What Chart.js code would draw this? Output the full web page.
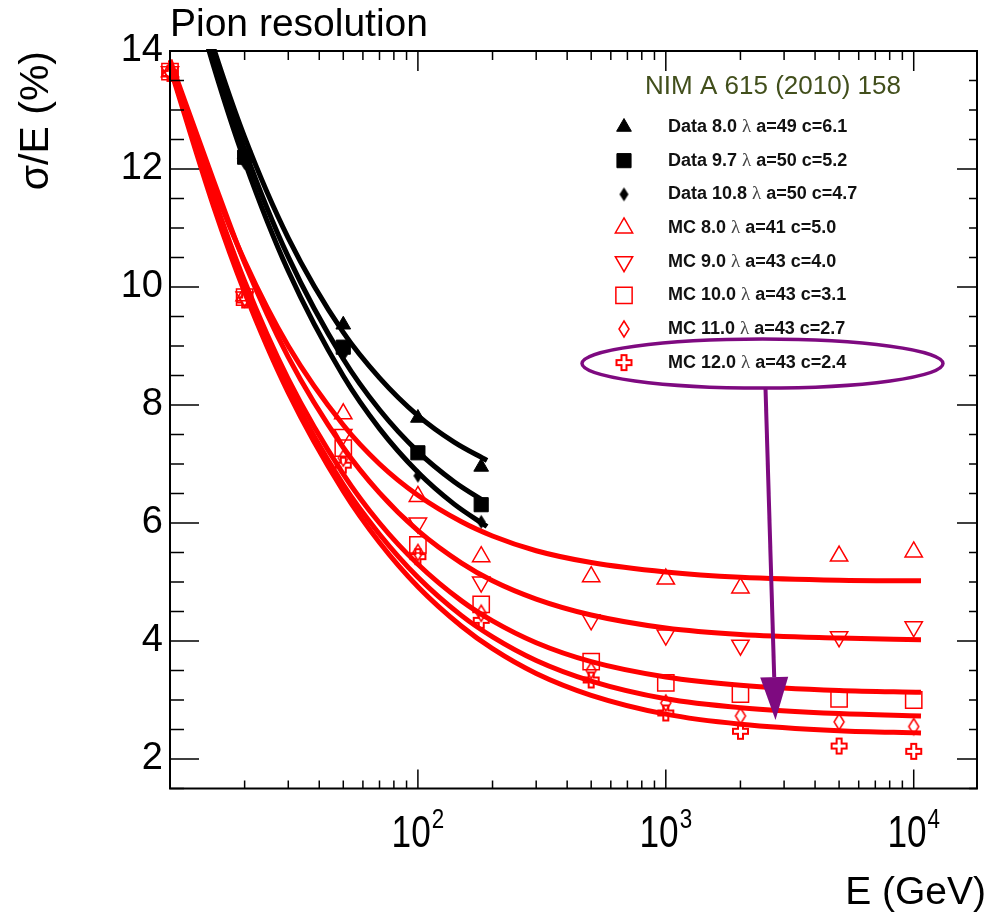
<!DOCTYPE html>
<html>
<head>
<meta charset="utf-8">
<title>Pion resolution</title>
<script src="https://cdn.jsdelivr.net/npm/chart.js@4.4.1/dist/chart.umd.min.js"></script>
<style>
  html, body { margin: 0; padding: 0; background: #fff; }
  #wrap { width: 990px; height: 914px; }
</style>
</head>
<body>
<div id="wrap"><canvas id="chartPion"></canvas></div>
<script>
// beam energies (GeV)
const dataEnergies = [20, 50, 100, 180];
const mcEnergies = [10, 20, 50, 100, 180, 500, 1000, 2000, 5000, 10000];

// sigma/E (%)
const data80 = [12.25, 9.36, 7.78, 6.95];
const data97 = [12.2, 8.98, 7.19, 6.31];
const data108 = [12.1, 8.85, 6.8, 6.02];

const mc80 = [13.65, 9.85, 7.85, 6.45, 5.43, 5.09, 5.05, 4.9, 5.44, 5.51];
const mc90 = [13.65, 9.83, 7.5, 6.0, 5.0, 4.36, 4.1, 3.93, 4.07, 4.24];
const mc100 = [13.65, 9.83, 7.27, 5.63, 4.62, 3.65, 3.29, 3.1, 3.02, 3.0];
const mc110 = [13.63, 9.8, 7.1, 5.5, 4.47, 3.5, 2.95, 2.73, 2.63, 2.55];
const mc120 = [13.62, 9.78, 6.98, 5.43, 4.35, 3.34, 2.78, 2.47, 2.22, 2.13];

// fit curves, read at a few energies
const fitDataE = [12, 15, 20, 30, 50, 70, 100, 140, 190];
const fit80 = [15.4, 14.05, 12.54, 10.83, 9.23, 8.46, 7.82, 7.37, 7.06];
const fit97 = [15.34, 13.92, 12.33, 10.51, 8.78, 7.92, 7.21, 6.7, 6.34];
const fit108 = [15.18, 13.74, 12.13, 10.27, 8.49, 7.6, 6.86, 6.32, 5.94];

const fitMcE = [10, 15, 20, 30, 50, 70, 100, 150, 200, 300, 500, 1000, 2000, 5000, 10700];
const fitMc80 = [13.8, 11.71, 10.44, 9.0, 7.66, 7.0, 6.47, 6.02, 5.78, 5.53, 5.33, 5.17, 5.08, 5.03, 5.02];
const fitMc90 = [13.85, 11.8, 10.41, 8.81, 7.28, 6.51, 5.87, 5.32, 5.02, 4.71, 4.44, 4.22, 4.11, 4.05, 4.02];
const fitMc100 = [13.8, 11.53, 10.1, 8.44, 6.83, 6.0, 5.3, 4.68, 4.34, 3.97, 3.65, 3.39, 3.25, 3.16, 3.13];
const fitMc110 = [13.75, 11.43, 9.99, 8.3, 6.65, 5.81, 5.08, 4.43, 4.07, 3.67, 3.32, 3.02, 2.87, 2.77, 2.73];
const fitMc120 = [13.72, 11.36, 9.91, 8.21, 6.54, 5.67, 4.92, 4.25, 3.87, 3.45, 3.08, 2.76, 2.59, 2.48, 2.44];

const seriesLabels = [
    "Data 8.0 λ a=49 c=6.1",
    "Data 9.7 λ a=50 c=5.2",
    "Data 10.8 λ a=50 c=4.7",
    "MC 8.0 λ a=41 c=5.0",
    "MC 9.0 λ a=43 c=4.0",
    "MC 10.0 λ a=43 c=3.1",
    "MC 11.0 λ a=43 c=2.7",
    "MC 12.0 λ a=43 c=2.4",
];
const legendTitle = "NIM A 615 (2010) 158";
const xAxisTitle = "E (GeV)";

// axis ticks
const xTickValues = [20, 30, 40, 50, 60, 70, 80, 90, 100, 200, 300, 400, 500, 600, 700, 800, 900,
    1000, 2000, 3000, 4000, 5000, 6000, 7000, 8000, 9000, 10000];
const xLabelValues = [100, 1000, 10000];
const xLabelBase = "10";
const xLabelExponents = ["2", "3", "4"];
const yTickValues = [1.5, 2, 2.5, 3, 3.5, 4, 4.5, 5, 5.5, 6, 6.5, 7, 7.5, 8, 8.5, 9, 9.5,
    10, 10.5, 11, 11.5, 12, 12.5, 13, 13.5, 14];
const yLabelValues = [2, 4, 6, 8, 10, 12, 14];

// where the purple arrow points (E, sigma/E)
const arrowTarget = { e: 2770, v: 2.66 };

const FONT = '"Liberation Sans", Arial, sans-serif';
const RED = "#ff0000";
const PURPLE = "#7e0a80";

function pts(xs, ys) {
    return xs.map((x, i) => ({ x: x, y: ys[i] }));
}

// tall narrow diamond marker
function diamondMarker(w, h, fill, stroke, lw) {
    const c = document.createElement("canvas");
    c.width = w + 4;
    c.height = h + 4;
    const g = c.getContext("2d");
    const cx = c.width / 2, cy = c.height / 2;
    g.beginPath();
    g.moveTo(cx, cy - h / 2);
    g.lineTo(cx + w / 2, cy);
    g.lineTo(cx, cy + h / 2);
    g.lineTo(cx - w / 2, cy);
    g.closePath();
    if (fill) { g.fillStyle = fill; g.fill(); }
    if (stroke) { g.strokeStyle = stroke; g.lineWidth = lw; g.stroke(); }
    return c;
}

// open plus marker
function crossMarker(size, arm, color, lw) {
    const c = document.createElement("canvas");
    c.width = size + 4;
    c.height = size + 4;
    const g = c.getContext("2d");
    const cx = c.width / 2, cy = c.height / 2;
    const s = size / 2, t = arm / 2;
    g.beginPath();
    g.moveTo(cx - t, cy - s);
    g.lineTo(cx + t, cy - s);
    g.lineTo(cx + t, cy - t);
    g.lineTo(cx + s, cy - t);
    g.lineTo(cx + s, cy + t);
    g.lineTo(cx + t, cy + t);
    g.lineTo(cx + t, cy + s);
    g.lineTo(cx - t, cy + s);
    g.lineTo(cx - t, cy + t);
    g.lineTo(cx - s, cy + t);
    g.lineTo(cx - s, cy - t);
    g.lineTo(cx - t, cy - t);
    g.closePath();
    g.strokeStyle = color;
    g.lineWidth = lw;
    g.stroke();
    return c;
}

function markerSet(label, data, style, radius, filled, color, rotation) {
    return {
        label: label,
        data: data,
        pointStyle: style,
        pointRadius: radius,
        pointRotation: rotation || 0,
        pointBackgroundColor: filled ? color : "rgba(0,0,0,0)",
        pointBorderColor: color,
        pointBorderWidth: filled ? 1 : 1.5,
        clip: false,
        isMarker: true,
    };
}

function fitLine(data, color) {
    return {
        type: "line",
        data: data,
        borderColor: color,
        borderWidth: 5,
        pointRadius: 0,
        cubicInterpolationMode: "monotone",
        fill: false,
        clip: 2,
    };
}

// legend drawn inside the plot, top right
const nimLegend = {
    id: "nimLegend",
    afterDatasetsDraw(chart) {
        const { ctx, chartArea } = chart;
        const markerX = chartArea.right - 353;
        const textX = markerX + 44;
        const top = chartArea.top;
        const step = 33.66;
        ctx.save();
        ctx.fillStyle = "#424f1c";
        ctx.font = "26px " + FONT;
        ctx.textAlign = "center";
        ctx.textBaseline = "alphabetic";
        ctx.fillText(legendTitle, markerX + 149, top + 43);

        const sets = chart.data.datasets.filter((d) => d.isMarker);
        sets.forEach((ds, i) => {
            const y = top + 76 + i * step;
            ctx.fillStyle = ds.pointBackgroundColor;
            ctx.strokeStyle = ds.pointBorderColor;
            ctx.lineWidth = ds.pointBorderWidth;
            Chart.helpers.drawPoint(ctx, {
                pointStyle: ds.pointStyle,
                rotation: ds.pointRotation,
                radius: ds.pointRadius,
                borderWidth: ds.pointBorderWidth,
            }, markerX, y);

            const parts = ds.label.split("λ");
            ctx.textAlign = "left";
            ctx.textBaseline = "middle";
            ctx.fillStyle = "#111";
            ctx.font = "bold 18px " + FONT;
            ctx.fillText(parts[0], textX, y);
            let w = ctx.measureText(parts[0]).width;
            ctx.font = '19px "Liberation Serif", serif';
            ctx.fillStyle = "#444";
            ctx.fillText("λ", textX + w, y);
            w += ctx.measureText("λ").width;
            ctx.font = "bold 18px " + FONT;
            ctx.fillStyle = "#111";
            ctx.fillText(parts[1], textX + w, y);
        });

        // purple ellipse round the last entry, arrow down to the curve
        const lastY = top + 76 + (sets.length - 1) * step;
        const cx = markerX + 138.5, cy = lastY + 1, rx = 180.5, ry = 24.5;
        ctx.strokeStyle = PURPLE;
        ctx.fillStyle = PURPLE;
        ctx.lineWidth = 3.5;
        ctx.beginPath();
        ctx.ellipse(cx, cy, rx, ry, 0, 0, Math.PI * 2);
        ctx.stroke();

        const tipX = chart.scales.x.getPixelForValue(arrowTarget.e);
        const tipY = chart.scales.y.getPixelForValue(arrowTarget.v);
        const startX = cx + 3, startY = cy + ry;
        const ang = Math.atan2(tipY - startY, tipX - startX);
        const headLen = 43, headHalf = 14;
        const baseX = tipX - Math.cos(ang) * headLen;
        const baseY = tipY - Math.sin(ang) * headLen;
        ctx.lineWidth = 4;
        ctx.beginPath();
        ctx.moveTo(startX, startY);
        ctx.lineTo(baseX, baseY);
        ctx.stroke();
        ctx.beginPath();
        ctx.moveTo(tipX, tipY);
        ctx.lineTo(baseX + Math.sin(ang) * headHalf, baseY - Math.cos(ang) * headHalf);
        ctx.lineTo(baseX - Math.sin(ang) * headHalf, baseY + Math.cos(ang) * headHalf);
        ctx.closePath();
        ctx.fill();
        ctx.restore();
    },
};

// frame with inward ticks on all four sides, plus the 10^n labels
const frameTicks = {
    id: "frameTicks",
    afterDraw(chart) {
        const { ctx, chartArea: a, scales } = chart;
        ctx.save();
        ctx.strokeStyle = "#000";
        ctx.lineWidth = 1.5;
        ctx.beginPath();
        scales.x.ticks.forEach((t) => {
            const px = scales.x.getPixelForValue(t.value);
            const major = xLabelValues.includes(t.value);
            ctx.moveTo(px, a.bottom);
            ctx.lineTo(px, a.bottom - (major ? 19 : 8));
            ctx.moveTo(px, a.top);
            ctx.lineTo(px, a.top + (major ? 20 : 9));
        });
        scales.y.ticks.forEach((t) => {
            const py = scales.y.getPixelForValue(t.value);
            const major = yLabelValues.includes(t.value);
            ctx.moveTo(a.left, py);
            ctx.lineTo(a.left + (major ? 29 : 14), py);
            ctx.moveTo(a.right, py);
            ctx.lineTo(a.right - (major ? 20 : 8), py);
        });
        ctx.stroke();
        ctx.lineWidth = 2;
        ctx.strokeRect(a.left, a.top, a.right - a.left, a.bottom - a.top);

        // condensed "10" with a raised exponent
        const squeeze = 0.8;
        ctx.fillStyle = "#000";
        ctx.textAlign = "left";
        ctx.textBaseline = "alphabetic";
        xLabelValues.forEach((v, i) => {
            const px = scales.x.getPixelForValue(v);
            ctx.font = "44px " + FONT;
            const w1 = ctx.measureText(xLabelBase).width * squeeze;
            ctx.font = "28px " + FONT;
            const w2 = ctx.measureText(xLabelExponents[i]).width * squeeze;
            const x0 = px - (w1 + w2 + 1) / 2;
            const base = a.bottom + 58.5;
            ctx.save();
            ctx.translate(x0, base);
            ctx.scale(squeeze, 1);
            ctx.font = "44px " + FONT;
            ctx.fillText(xLabelBase, 0, 0);
            ctx.restore();
            ctx.save();
            ctx.translate(x0 + w1 + 1, base - 19);
            ctx.scale(squeeze, 1);
            ctx.font = "28px " + FONT;
            ctx.fillText(xLabelExponents[i], 0, 0);
            ctx.restore();
        });

        // axis title, right edge just past the frame
        ctx.font = "39px " + FONT;
        ctx.textAlign = "right";
        ctx.fillText(xAxisTitle, a.right + 9, a.bottom + 115);
        ctx.restore();
    },
};

const ctx = document.getElementById("chartPion");

new Chart(ctx, {
    type: "scatter",
    data: {
        datasets: [
            markerSet(seriesLabels[0], pts(dataEnergies, data80), "triangle", 8.5, true, "#000"),
            markerSet(seriesLabels[1], pts(dataEnergies, data97), "rect", 10, true, "#000"),
            markerSet(seriesLabels[2], pts(dataEnergies, data108), diamondMarker(9, 14, "#000", null, 0), 7, true, "#000"),
            markerSet(seriesLabels[3], pts(mcEnergies, mc80), "triangle", 10, false, RED),
            markerSet(seriesLabels[4], pts(mcEnergies, mc90), "triangle", 10, false, RED, 180),
            markerSet(seriesLabels[5], pts(mcEnergies, mc100), "rect", 11.5, false, RED),
            markerSet(seriesLabels[6], pts(mcEnergies, mc110), diamondMarker(10, 16, null, RED, 1.5), 8, false, RED),
            markerSet(seriesLabels[7], pts(mcEnergies, mc120), crossMarker(15, 5, RED, 2), 8, false, RED),
            fitLine(pts(fitDataE, fit80), "#000"),
            fitLine(pts(fitDataE, fit97), "#000"),
            fitLine(pts(fitDataE, fit108), "#000"),
            fitLine(pts(fitMcE, fitMc80), RED),
            fitLine(pts(fitMcE, fitMc90), RED),
            fitLine(pts(fitMcE, fitMc100), RED),
            fitLine(pts(fitMcE, fitMc110), RED),
            fitLine(pts(fitMcE, fitMc120), RED),
        ],
    },
    options: {
        responsive: true,
        maintainAspectRatio: false,
        animation: false,
        events: [],
        layout: { padding: { top: 0, right: 12, bottom: 0, left: 0 } },
        plugins: {
            legend: { display: false },
            tooltip: { enabled: false },
            title: {
                display: true,
                text: "Pion resolution",
                align: "start",
                fullSize: false,
                color: "#000",
                font: { family: FONT, size: 39, weight: "normal", lineHeight: 1 },
                padding: { top: 6, bottom: 6 },
            },
        },
        scales: {
            x: {
                type: "logarithmic",
                min: 10,
                max: 18000,
                afterBuildTicks: (scale) => {
                    scale.ticks = xTickValues.map((v) => ({ value: v }));
                },
                afterFit: (scale) => {
                    scale.height = 125.5;
                },
                grid: { display: false, drawTicks: false },
                border: { display: false },
                ticks: { display: false, autoSkip: false },
                title: { display: false },
            },
            y: {
                min: 1.5,
                max: 14,
                afterBuildTicks: (scale) => {
                    scale.ticks = yTickValues.map((v) => ({ value: v }));
                },
                afterFit: (scale) => {
                    scale.width = 170;
                },
                grid: { display: false, drawTicks: false },
                border: { display: false },
                ticks: {
                    autoSkip: false,
                    padding: 7,
                    color: "#000",
                    font: { family: FONT, size: 38 },
                    callback: (value) => (yLabelValues.includes(value) ? String(value) : ""),
                },
                title: {
                    display: true,
                    text: "σ/E (%)",
                    align: "end",
                    color: "#000",
                    font: { family: FONT, size: 41, lineHeight: 1 },
                    padding: { top: 16, bottom: 0 },
                },
            },
        },
    },
    plugins: [frameTicks, nimLegend],
});
</script>
</body>
</html>
